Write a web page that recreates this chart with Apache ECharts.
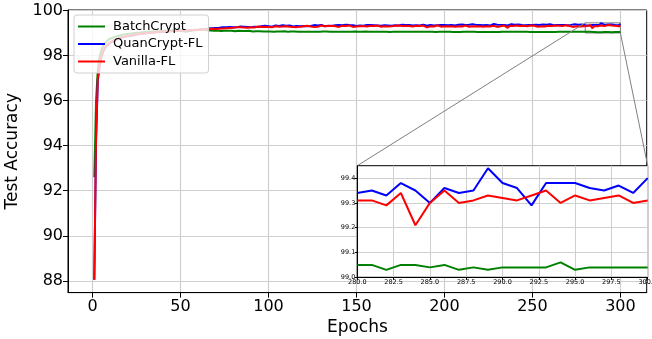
<!DOCTYPE html>
<html>
<head>
<meta charset="utf-8">
<script src="https://cdn.jsdelivr.net/npm/echarts@6/dist/echarts.min.js"></script>
<style>
  html, body { margin: 0; padding: 0; background: #fff; }
  #chart { width: 652px; height: 339px; }
</style>
</head>
<body>
<div id="chart"></div>
<script>
// test accuracy per epoch (epochs 1..300)
const epochs = Array.from({ length: 300 }, (_, i) => i + 1)

const batchCrypt = [
  // 1-60
  92.6, 96.0, 97.4, 97.95, 98.25, 98.42, 98.55, 98.63, 98.7, 98.74,
  98.78, 98.81, 98.84, 98.86, 98.88, 98.9, 98.92, 98.93, 98.95, 98.96,
  98.97, 98.98, 98.99, 99.0, 99.01, 99.02, 99.02, 99.03, 99.04, 99.04,
  99.05, 99.05, 99.06, 99.06, 99.07, 99.07, 99.08, 99.08, 99.09, 99.09,
  99.1, 99.1, 99.1, 99.11, 99.11, 99.12, 99.11, 99.12, 99.12, 99.1,
  99.08, 99.06, 99.05, 99.06, 99.08, 99.1, 99.12, 99.13, 99.12, 99.13,
  // 61-120
  99.14, 99.13, 99.15, 99.14, 99.12, 99.13, 99.11, 99.12, 99.1, 99.12,
  99.11, 99.1, 99.09, 99.11, 99.1, 99.09, 99.1, 99.08, 99.1, 99.09,
  99.08, 99.09, 99.1, 99.08, 99.09, 99.07, 99.09, 99.08, 99.1, 99.08,
  99.07, 99.09, 99.08, 99.07, 99.08, 99.09, 99.07, 99.08, 99.07, 99.08,
  99.07, 99.08, 99.06, 99.08, 99.07, 99.09, 99.07, 99.06, 99.08, 99.07,
  99.06, 99.08, 99.07, 99.06, 99.07, 99.08, 99.06, 99.07, 99.06, 99.07,
  // 121-180
  99.06, 99.08, 99.06, 99.07, 99.05, 99.07, 99.06, 99.07, 99.06, 99.05,
  99.07, 99.06, 99.07, 99.05, 99.06, 99.07, 99.06, 99.05, 99.06, 99.07,
  99.06, 99.05, 99.06, 99.07, 99.05, 99.06, 99.05, 99.06, 99.07, 99.05,
  99.06, 99.05, 99.06, 99.05, 99.07, 99.05, 99.06, 99.05, 99.06, 99.05,
  99.06, 99.05, 99.06, 99.04, 99.06, 99.05, 99.06, 99.05, 99.04, 99.06,
  99.05, 99.06, 99.05, 99.04, 99.05, 99.06, 99.05, 99.04, 99.05, 99.06,
  // 181-240
  99.05, 99.04, 99.05, 99.06, 99.05, 99.04, 99.05, 99.05, 99.06, 99.04,
  99.05, 99.04, 99.05, 99.06, 99.04, 99.05, 99.05, 99.04, 99.05, 99.04,
  99.05, 99.04, 99.05, 99.06, 99.04, 99.05, 99.04, 99.05, 99.04, 99.05,
  99.06, 99.04, 99.05, 99.04, 99.05, 99.04, 99.05, 99.05, 99.04, 99.05,
  99.04, 99.05, 99.04, 99.06, 99.04, 99.05, 99.04, 99.05, 99.04, 99.05,
  99.04, 99.05, 99.05, 99.04, 99.05, 99.04, 99.06, 99.04, 99.05, 99.04,
  // 241-300
  99.05, 99.04, 99.05, 99.04, 99.05, 99.04, 99.05, 99.06, 99.04, 99.05,
  99.04, 99.05, 99.04, 99.05, 99.04, 99.05, 99.04, 99.05, 99.04, 99.05,
  99.04, 99.05, 99.04, 99.05, 99.06, 99.04, 99.05, 99.04, 99.05, 99.04,
  99.05, 99.04, 99.05, 99.04, 99.05, 99.04, 99.05, 99.04, 99.05, 99.05,
  99.05, 99.03, 99.05, 99.05, 99.04, 99.05, 99.03, 99.04, 99.03, 99.04,
  99.04, 99.04, 99.04, 99.06, 99.03, 99.04, 99.04, 99.04, 99.04, 99.04
]

const quanCryptFL = [
  // 1-60
  88.05, 94.2, 96.9, 97.5, 97.9, 98.15, 98.3, 98.42, 98.5, 98.56,
  98.61, 98.65, 98.69, 98.72, 98.75, 98.78, 98.8, 98.82, 98.84, 98.86,
  98.87, 98.88, 98.9, 98.91, 98.92, 98.94, 98.95, 98.96, 98.97, 98.98,
  98.99, 99.0, 99.01, 99.01, 99.02, 99.03, 99.04, 99.04, 99.05, 99.06,
  99.06, 99.07, 99.07, 99.08, 99.08, 99.09, 99.09, 99.1, 99.1, 99.11,
  99.11, 99.12, 99.11, 99.12, 99.13, 99.12, 99.13, 99.14, 99.13, 99.14,
  // 61-120
  99.15, 99.17, 99.15, 99.18, 99.17, 99.2, 99.18, 99.21, 99.2, 99.22,
  99.21, 99.23, 99.22, 99.25, 99.23, 99.26, 99.24, 99.27, 99.25, 99.26,
  99.28, 99.25, 99.27, 99.29, 99.26, 99.28, 99.3, 99.27, 99.29, 99.26,
  99.3, 99.28, 99.31, 99.27, 99.29, 99.3, 99.28, 99.32, 99.29, 99.3,
  99.31, 99.28, 99.3, 99.33, 99.29, 99.31, 99.3, 99.34, 99.29, 99.32,
  99.3, 99.33, 99.31, 99.29, 99.34, 99.31, 99.32, 99.3, 99.35, 99.31,
  // 121-180
  99.33, 99.3, 99.34, 99.31, 99.32, 99.35, 99.3, 99.33, 99.31, 99.36,
  99.32, 99.3, 99.34, 99.32, 99.35, 99.31, 99.33, 99.34, 99.3, 99.36,
  99.32, 99.34, 99.31, 99.37, 99.33, 99.35, 99.32, 99.34, 99.36, 99.31,
  99.35, 99.33, 99.37, 99.32, 99.34, 99.36, 99.33, 99.35, 99.31, 99.34,
  99.36, 99.33, 99.38, 99.32, 99.35, 99.34, 99.37, 99.33, 99.35, 99.32,
  99.36, 99.34, 99.38, 99.33, 99.35, 99.37, 99.32, 99.36, 99.34, 99.35,
  // 181-240
  99.37, 99.33, 99.36, 99.34, 99.39, 99.33, 99.35, 99.37, 99.34, 99.32,
  99.36, 99.35, 99.38, 99.33, 99.36, 99.34, 99.37, 99.35, 99.33, 99.36,
  99.38, 99.34, 99.36, 99.35, 99.39, 99.33, 99.36, 99.37, 99.34, 99.38,
  99.35, 99.36, 99.33, 99.37, 99.35, 99.39, 99.34, 99.36, 99.38, 99.35,
  99.36, 99.34, 99.38, 99.35, 99.37, 99.33, 99.36, 99.4, 99.35, 99.37,
  99.34, 99.36, 99.38, 99.35, 99.37, 99.33, 99.36, 99.39, 99.35, 99.37,
  // 241-300
  99.34, 99.38, 99.36, 99.35, 99.39, 99.34, 99.37, 99.35, 99.38, 99.36,
  99.34, 99.37, 99.4, 99.35, 99.36, 99.38, 99.34, 99.37, 99.35, 99.39,
  99.36, 99.34, 99.38, 99.35, 99.37, 99.36, 99.41, 99.35, 99.37, 99.34,
  99.38, 99.36, 99.35, 99.39, 99.34, 99.37, 99.36, 99.38, 99.35, 99.34,
  99.35, 99.33, 99.38, 99.35, 99.30, 99.36, 99.34, 99.35, 99.44, 99.38,
  99.36, 99.29, 99.38, 99.38, 99.38, 99.36, 99.35, 99.37, 99.34, 99.40
]

const vanillaFL = [
  // 1-60
  88.05, 94.5, 97.0, 97.6, 97.95, 98.2, 98.35, 98.45, 98.52, 98.58,
  98.63, 98.67, 98.71, 98.74, 98.77, 98.8, 98.82, 98.84, 98.86, 98.87,
  98.89, 98.9, 98.91, 98.93, 98.94, 98.95, 98.96, 98.97, 98.98, 98.99,
  99.0, 99.0, 99.01, 99.02, 99.03, 99.03, 99.04, 99.05, 99.05, 99.06,
  99.06, 99.07, 99.07, 99.08, 99.08, 99.09, 99.09, 99.1, 99.1, 99.11,
  99.1, 99.11, 99.12, 99.12, 99.11, 99.12, 99.13, 99.13, 99.12, 99.13,
  // 61-120
  99.14, 99.16, 99.13, 99.17, 99.15, 99.18, 99.16, 99.19, 99.2, 99.18,
  99.21, 99.19, 99.22, 99.2, 99.23, 99.21, 99.24, 99.22, 99.25, 99.23,
  99.24, 99.26, 99.22, 99.25, 99.27, 99.24, 99.26, 99.23, 99.27, 99.25,
  99.28, 99.24, 99.26, 99.29, 99.25, 99.27, 99.24, 99.28, 99.26, 99.27,
  99.29, 99.25, 99.27, 99.3, 99.26, 99.28, 99.25, 99.29, 99.27, 99.3,
  99.26, 99.28, 99.31, 99.27, 99.29, 99.26, 99.3, 99.28, 99.27, 99.3,
  // 121-180
  99.28, 99.32, 99.27, 99.29, 99.3, 99.26, 99.31, 99.28, 99.3, 99.33,
  99.27, 99.3, 99.28, 99.31, 99.29, 99.32, 99.28, 99.3, 99.31, 99.27,
  99.3, 99.32, 99.29, 99.31, 99.28, 99.33, 99.3, 99.27, 99.31, 99.29,
  99.32, 99.3, 99.28, 99.31, 99.33, 99.29, 99.3, 99.32, 99.28, 99.31,
  99.29, 99.33, 99.3, 99.28, 99.32, 99.3, 99.34, 99.29, 99.31, 99.3,
  99.27, 99.32, 99.3, 99.33, 99.29, 99.31, 99.28, 99.32, 99.3, 99.31,
  // 181-240
  99.33, 99.29, 99.3, 99.32, 99.28, 99.31, 99.3, 99.33, 99.29, 99.25,
  99.31, 99.3, 99.32, 99.29, 99.31, 99.34, 99.3, 99.28, 99.32, 99.3,
  99.31, 99.29, 99.33, 99.3, 99.32, 99.28, 99.31, 99.3, 99.34, 99.29,
  99.31, 99.33, 99.3, 99.28, 99.32, 99.3, 99.31, 99.29, 99.33, 99.3,
  99.32, 99.28, 99.31, 99.3, 99.33, 99.29, 99.31, 99.32, 99.3, 99.27,
  99.32, 99.3, 99.31, 99.33, 99.29, 99.23, 99.32, 99.28, 99.31, 99.3,
  // 241-300
  99.33, 99.29, 99.31, 99.3, 99.32, 99.26, 99.3, 99.31, 99.33, 99.29,
  99.32, 99.3, 99.28, 99.31, 99.3, 99.33, 99.29, 99.31, 99.32, 99.3,
  99.31, 99.29, 99.33, 99.3, 99.32, 99.28, 99.31, 99.3, 99.34, 99.29,
  99.31, 99.3, 99.27, 99.32, 99.3, 99.33, 99.29, 99.31, 99.3, 99.31,
  99.31, 99.29, 99.34, 99.21, 99.30, 99.35, 99.30, 99.31, 99.33, 99.32,
  99.31, 99.33, 99.35, 99.30, 99.33, 99.31, 99.32, 99.33, 99.30, 99.31
]

const seriesNames = ['BatchCrypt', 'QuanCrypt-FL', 'Vanilla-FL']
const seriesColors = ['#008000', '#0000ff', '#ff0000']

const xTicks = [0, 50, 100, 150, 200, 250, 300]
const yTicks = [88, 90, 92, 94, 96, 98, 100]
const zoomXTicks = [280, 282.5, 285, 287.5, 290, 292.5, 295, 297.5, 300]
const zoomYTicks = [99.0, 99.1, 99.2, 99.3, 99.4]
const zoomX = [280, 300]
const zoomY = [99.0, 99.45]

const FONT = 'DejaVu Sans'
const GRID_COLOR = '#cfcfcf'

const chart = echarts.init(document.getElementById('chart'), null, { renderer: 'canvas' })

const allData = [batchCrypt, quanCryptFL, vanillaFL]
const pairs = arr => arr.map((v, i) => [epochs[i], v])

const mainSeries = allData.map((d, i) => ({
  name: seriesNames[i],
  type: 'line',
  xAxisIndex: 0,
  yAxisIndex: 0,
  data: pairs(d),
  showSymbol: false,
  lineStyle: { color: seriesColors[i], width: 2 },
  itemStyle: { color: seriesColors[i] },
  z: 2
}))

// rectangle marking the zoomed region
mainSeries[2].markArea = {
  silent: true,
  itemStyle: { color: 'rgba(0,0,0,0)', borderColor: '#808080', borderWidth: 1 },
  data: [[{ xAxis: zoomX[0], yAxis: zoomY[0] }, { xAxis: zoomX[1], yAxis: zoomY[1] }]]
}

const insetSeries = allData.map((d, i) => ({
  name: seriesNames[i],
  type: 'line',
  xAxisIndex: 1,
  yAxisIndex: 1,
  data: pairs(d).filter(p => p[0] >= zoomX[0]),
  showSymbol: false,
  lineStyle: { color: seriesColors[i], width: 2 },
  itemStyle: { color: seriesColors[i] },
  z: 6
}))

const tickLabel = { fontFamily: FONT, fontSize: 16, color: '#000' }
const smallLabel = { fontFamily: FONT, fontSize: 6.5, color: '#000' }

chart.setOption({
  animation: false,
  backgroundColor: '#fff',
  textStyle: { fontFamily: FONT },
  grid: [
    { left: 68, right: 5.3, top: 10, bottom: 46.4, outerBoundsMode: 'none', show: true, borderColor: '#000', borderWidth: 1, backgroundColor: 'rgba(0,0,0,0)' },
    { left: 357.3, top: 165.7, width: 290.4, height: 111.6, outerBoundsMode: 'none', show: true, borderColor: '#000', borderWidth: 1, backgroundColor: '#fff', z: 3 }
  ],
  legend: {
    data: seriesNames,
    orient: 'vertical',
    left: 74,
    top: 15,
    padding: [5, 6, 5, 4],
    itemGap: 4.5,
    itemWidth: 27,
    itemHeight: 2,
    icon: 'rect',
    backgroundColor: 'rgba(255,255,255,0.8)',
    borderColor: '#d0d0d0',
    borderWidth: 1,
    borderRadius: 3,
    textStyle: { fontFamily: FONT, fontSize: 13, color: '#000', padding: [0, 0, 0, 3] },
    z: 8
  },
  xAxis: [
    {
      type: 'value', gridIndex: 0, min: -13.95, max: 314.95,
      name: 'Epochs', nameLocation: 'middle', nameGap: 26,
      nameTextStyle: { fontFamily: FONT, fontSize: 17, color: '#000' },
      axisLine: { show: true, onZero: false, lineStyle: { color: '#000', width: 1 } },
      axisTick: { show: true, customValues: xTicks, length: 5, lineStyle: { color: '#000' } },
      axisLabel: Object.assign({ customValues: xTicks, margin: 6 }, tickLabel),
      splitLine: { show: true, lineStyle: { color: GRID_COLOR, width: 1.2 } }
    },
    {
      type: 'value', gridIndex: 1, min: zoomX[0], max: zoomX[1], interval: 2.5, z: 4,
      axisLine: { show: true, onZero: false, lineStyle: { color: '#000', width: 1 } },
      axisTick: { show: true, length: 2.5, lineStyle: { color: '#000' } },
      axisLabel: Object.assign({ margin: 2, formatter: v => v.toFixed(1) }, smallLabel),
      splitLine: { show: true, lineStyle: { color: GRID_COLOR, width: 1 } }
    }
  ],
  yAxis: [
    {
      type: 'value', gridIndex: 0, min: 87.48, max: 100.02,
      name: 'Test Accuracy', nameLocation: 'middle', nameGap: 35,
      nameTextStyle: { fontFamily: FONT, fontSize: 17, color: '#000' },
      axisLine: { show: true, onZero: false, lineStyle: { color: '#000', width: 1 } },
      axisTick: { show: true, customValues: yTicks, length: 5, lineStyle: { color: '#000' } },
      axisLabel: Object.assign({ customValues: yTicks, margin: 5 }, tickLabel),
      splitLine: { show: true, lineStyle: { color: GRID_COLOR, width: 1.2 } }
    },
    {
      type: 'value', gridIndex: 1, min: zoomY[0], max: zoomY[1], z: 4,
      axisLine: { show: true, onZero: false, lineStyle: { color: '#000', width: 1 } },
      axisTick: { show: true, customValues: zoomYTicks, length: 2.5, lineStyle: { color: '#000' } },
      axisLabel: Object.assign({ customValues: zoomYTicks, margin: 2, formatter: v => v.toFixed(1) }, smallLabel),
      splitLine: { show: true, lineStyle: { color: GRID_COLOR, width: 1 } }
    }
  ],
  series: mainSeries.concat(insetSeries)
})

// connector lines from the marked box to the inset corners
const boxTL = chart.convertToPixel({ gridIndex: 0 }, [zoomX[0], zoomY[1]])
const boxBR = chart.convertToPixel({ gridIndex: 0 }, [zoomX[1], zoomY[0]])
const insetTL = chart.convertToPixel({ gridIndex: 1 }, [zoomX[0], zoomY[1]])
const insetTR = chart.convertToPixel({ gridIndex: 1 }, [zoomX[1], zoomY[1]])

chart.setOption({
  graphic: [
    { type: 'line', z: 3, silent: true, shape: { x1: boxTL[0], y1: boxTL[1], x2: insetTL[0], y2: insetTL[1] }, style: { stroke: '#808080', lineWidth: 1 } },
    { type: 'line', z: 3, silent: true, shape: { x1: boxBR[0], y1: boxBR[1], x2: insetTR[0], y2: insetTR[1] }, style: { stroke: '#808080', lineWidth: 1 } }
  ]
})
</script>
</body>
</html>
